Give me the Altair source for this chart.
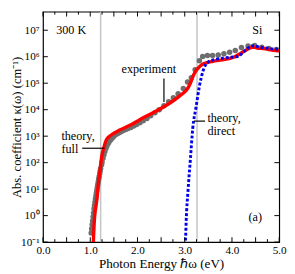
import altair as alt
import pandas as pd

# ---------------- data ----------------
exp_energy = [1.02, 1.03, 1.04, 1.05, 1.06, 1.07, 1.08, 1.09, 1.10, 1.11, 1.12, 1.13,
              1.14, 1.15, 1.16, 1.17, 1.18, 1.19, 1.20, 1.21, 1.22, 1.24, 1.25, 1.27,
              1.29, 1.31, 1.33, 1.35, 1.38, 1.40, 1.43, 1.46, 1.49, 1.53, 1.57, 1.61,
              1.65, 1.70, 1.75, 1.80, 1.86, 1.92, 1.98, 2.05, 2.12, 2.20, 2.28, 2.37,
              2.46, 2.56, 2.66, 2.76, 2.86, 2.97, 3.06, 3.14, 3.22, 3.31, 3.38, 3.48,
              3.59, 3.71, 3.83, 3.95, 4.07, 4.20, 4.34, 4.48, 4.63, 4.78, 4.94]
exp_kappa = [0.22, 0.32, 0.45, 0.63, 0.89, 1.26, 1.8, 2.4, 3.2, 4.2, 5.5, 7.1,
             9.1, 11.7, 14.8, 19, 24, 30, 38, 48, 60, 83, 105, 145,
             200, 263, 339, 417, 525, 617, 724, 832, 955, 1100, 1230, 1350,
             1480, 1620, 1780, 1950, 2140, 2400, 2750, 3240, 3800, 4680, 5890, 7590,
             1.0e4, 1.41e4, 2.0e4, 2.8e4, 4.0e4, 6.3e4, 1.1e5, 1.6e5, 3.2e5, 7.1e5, 1.02e6, 1.10e6,
             1.10e6, 1.15e6, 1.29e6, 1.48e6, 1.70e6, 2.24e6, 2.51e6, 2.63e6, 2.29e6, 2.04e6, 1.86e6]

full_energy = [1.06, 1.07, 1.08, 1.10, 1.12, 1.14, 1.17, 1.21, 1.24, 1.27, 1.30, 1.34,
               1.41, 1.51, 1.61, 1.85, 2.15, 2.56, 2.90, 3.07, 3.12, 3.17, 3.22, 3.27,
               3.37, 3.48, 3.58, 3.85, 3.98, 4.05, 4.19, 4.30, 4.36, 4.42, 4.48, 4.53,
               4.66, 4.93, 5.00]
full_kappa = [0.05, 0.16, 0.4, 1.26, 2.2, 4.0, 15.8, 56, 158, 282, 447, 724,
              1000, 1320, 1660, 2630, 5250, 12900, 33900, 66100, 1.0e5, 1.74e5, 2.63e5, 3.47e5,
              5.13e5, 6.03e5, 6.61e5, 7.94e5, 8.91e5, 9.77e5, 1.35e6, 1.78e6, 2.04e6, 2.29e6, 2.29e6, 2.14e6,
              2.04e6, 1.70e6, 1.66e6]

direct_energy = [3.00, 3.02, 3.03, 3.07, 3.12, 3.17, 3.24, 3.31, 3.39, 3.48, 3.64, 3.98,
                 4.12, 4.29, 4.42, 4.66, 4.90, 5.00]
direct_kappa = [0.05, 0.17, 0.58, 8.9, 138, 2000, 12600, 75900, 3.0e5, 6.0e5, 7.8e5, 9.5e5,
                1.02e6, 1.78e6, 2.57e6, 2.19e6, 1.95e6, 1.9e6]

marker_energy = [1.22, 3.26]

x_major = [0.0, 0.5, 1.0, 1.5, 2.0, 2.5, 3.0, 3.5, 4.0, 4.5, 5.0]
x_minor = [0.25, 0.75, 1.25, 1.75, 2.25, 2.75, 3.25, 3.75, 4.25, 4.75]
y_major = [0.1, 1, 10, 1e2, 1e3, 1e4, 1e5, 1e6, 1e7]
y_labels = ["10⁻¹", "10⁰", "10¹", "10²", "10³", "10⁴", "10⁵", "10⁶", "10⁷"]

# annotations: text, energy, kappa
ann_left_text = ["300 K", "Si", "(a)", "theory,", "direct", "theory,", "full"]
ann_left_e = [0.28, 4.43, 4.35, 3.48, 3.48, 0.39, 0.39]
ann_left_k = [1.05e7, 1.05e7, 0.9, 5000, 1580, 1000, 330]
ann_center_text = ["experiment"]
ann_center_e = [2.24]
ann_center_k = [3.3e5]

# pointer lines (energy, kappa) start/end
ptr_e1 = [2.56, 3.19, 0.83]
ptr_e2 = [2.56, 3.43, 1.30]
ptr_k1 = [1.5e5, 3700, 350]
ptr_k2 = [1.95e4, 3700, 350]

# ---------------- chart ----------------
W, H = 243, 237
FONT = "Liberation Serif"
xs = alt.Scale(domain=[0, 5], nice=False, zero=False)
ys = alt.Scale(type="log", domain=[0.1, 5e7], nice=False)

df_exp = pd.DataFrame({"E": exp_energy, "k": exp_kappa})
df_full = pd.DataFrame({"E": full_energy, "k": full_kappa})
df_dir = pd.DataFrame({"E": direct_energy, "k": direct_kappa})
df_mark = pd.DataFrame({"E": marker_energy})

label_expr = "[" + ",".join("'%s'" % s for s in y_labels) + "][round(log(datum.value)/LN10)+1]"

x_axis = alt.Axis(values=x_major, format=".1f", ticks=False, domain=False, grid=False,
                  labelFont=FONT, labelFontSize=11.5, labelPadding=3, labelColor="black",
                  labelFlush=False, labelOverlap=False,
                  title="Photon Energy ℏω (eV)", titleFont=FONT, titleFontSize=13.5,
                  titleFontWeight="normal", titleColor="black", titleY=15,
                  titleBaseline="top")
y_axis = alt.Axis(values=y_major, labelExpr=label_expr, ticks=False, domain=False, grid=False,
                  labelFont=FONT, labelFontSize=11.5, labelPadding=4, labelColor="black",
                  labelFlush=False, labelOverlap=False,
                  title="Abs. coefficient κ(ω) (cm⁻¹)", titleFont=FONT, titleFontSize=13,
                  titleFontWeight="normal", titleColor="black", titleX=-20,
                  titleBaseline="bottom")

vlines = alt.Chart(df_mark).mark_rule(color="#c4c4c4", strokeWidth=1.5).encode(
    x=alt.X("E:Q", scale=xs, axis=x_axis))

pts = alt.Chart(df_exp).mark_circle(size=32, color="#6e6e6e", opacity=1, clip=True).encode(
    x=alt.X("E:Q", scale=xs, axis=x_axis),
    y=alt.Y("k:Q", scale=ys, axis=y_axis))

full = alt.Chart(df_full).mark_line(color="#ff0000", strokeWidth=3.5, clip=True,
                                    interpolate="monotone").encode(
    x=alt.X("E:Q", scale=xs), y=alt.Y("k:Q", scale=ys))

direct = alt.Chart(df_dir).mark_line(color="#0000ee", strokeWidth=3, strokeDash=[3, 2],
                                     clip=True, interpolate="monotone").encode(
    x=alt.X("E:Q", scale=xs), y=alt.Y("k:Q", scale=ys))

df_ptr = pd.DataFrame({"e1": ptr_e1, "e2": ptr_e2, "k1": ptr_k1, "k2": ptr_k2})
ptrs = alt.Chart(df_ptr).mark_rule(color="black", strokeWidth=1.2).encode(
    x=alt.X("e1:Q", scale=xs), x2="e2:Q",
    y=alt.Y("k1:Q", scale=ys), y2="k2:Q")

df_tl = pd.DataFrame({"t": ann_left_text, "E": ann_left_e, "k": ann_left_k})
txt_left = alt.Chart(df_tl).mark_text(align="left", baseline="middle", font=FONT,
                                      fontSize=12.5, color="black").encode(
    x=alt.X("E:Q", scale=xs), y=alt.Y("k:Q", scale=ys), text="t:N")

df_tc = pd.DataFrame({"t": ann_center_text, "E": ann_center_e, "k": ann_center_k})
txt_center = alt.Chart(df_tc).mark_text(align="center", baseline="middle", font=FONT,
                                        fontSize=12.5, color="black").encode(
    x=alt.X("E:Q", scale=xs), y=alt.Y("k:Q", scale=ys), text="t:N")

# inward ticks on all four sides
df_xM = pd.DataFrame({"E": x_major})
df_xm = pd.DataFrame({"E": x_minor})
df_yM = pd.DataFrame({"k": y_major})
tick_style = dict(color="black", strokeWidth=1)
xt_bot_M = alt.Chart(df_xM).mark_rule(**tick_style).encode(
    x=alt.X("E:Q", scale=xs), y=alt.value(H), y2=alt.value(H - 5))
xt_top_M = alt.Chart(df_xM).mark_rule(**tick_style).encode(
    x=alt.X("E:Q", scale=xs), y=alt.value(0), y2=alt.value(5))
xt_bot_m = alt.Chart(df_xm).mark_rule(**tick_style).encode(
    x=alt.X("E:Q", scale=xs), y=alt.value(H), y2=alt.value(H - 3))
xt_top_m = alt.Chart(df_xm).mark_rule(**tick_style).encode(
    x=alt.X("E:Q", scale=xs), y=alt.value(0), y2=alt.value(3))
yt_left = alt.Chart(df_yM).mark_rule(**tick_style).encode(
    y=alt.Y("k:Q", scale=ys), x=alt.value(0), x2=alt.value(5))
yt_right = alt.Chart(df_yM).mark_rule(**tick_style).encode(
    y=alt.Y("k:Q", scale=ys), x=alt.value(W), x2=alt.value(W - 5))

chart = alt.layer(
    vlines, pts, full, direct, ptrs, txt_left, txt_center,
    xt_bot_M, xt_top_M, xt_bot_m, xt_top_m, yt_left, yt_right
).properties(
    width=W, height=H,
    autosize=alt.AutoSizeParams(type="none"),
    padding={"left": 36, "top": 0, "right": 8, "bottom": 29},
    background="white",
).configure_view(stroke="black", strokeWidth=1.2)

chart.save("out.html", embed_options={"renderer": "svg", "actions": False})
